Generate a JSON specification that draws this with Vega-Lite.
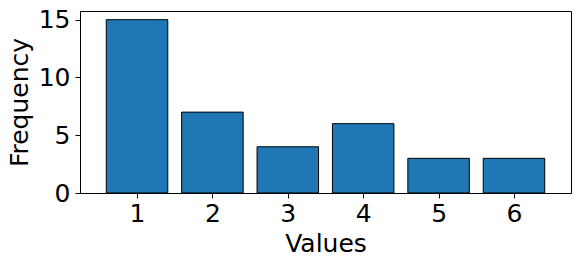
{
  "$schema": "https://vega.github.io/schema/vega-lite/v6.json",
  "autosize": "none",
  "width": 491,
  "height": 182,
  "padding": {"left": 80, "top": 11, "right": 10, "bottom": 74},
  "background": "white",
  "config": {
    "view": {"stroke": "#000000", "strokeWidth": 1},
    "font": "DejaVu Sans",
    "axis": {
      "labelFont": "DejaVu Sans",
      "titleFont": "DejaVu Sans",
      "labelFontSize": 25,
      "titleFontSize": 25,
      "titleFontWeight": "normal",
      "labelColor": "#000000",
      "titleColor": "#000000",
      "tickColor": "#000000",
      "domainColor": "#000000",
      "tickSize": 5,
      "grid": false
    }
  },
  "data": {
    "values": [
      {"Values": 1, "Frequency": 15},
      {"Values": 2, "Frequency": 7},
      {"Values": 3, "Frequency": 4},
      {"Values": 4, "Frequency": 6},
      {"Values": 5, "Frequency": 3},
      {"Values": 6, "Frequency": 3}
    ]
  },
  "mark": {"type": "bar", "size": 61.5, "fill": "#1f77b4", "stroke": "#000000", "strokeWidth": 1},
  "encoding": {
    "x": {
      "field": "Values",
      "type": "quantitative",
      "scale": {"domain": [0.31, 6.69], "nice": false, "zero": false},
      "axis": {"values": [1, 2, 3, 4, 5, 6], "title": "Values", "labelPadding": 3.5, "titlePadding": 5, "labelFlush": false}
    },
    "y": {
      "field": "Frequency",
      "type": "quantitative",
      "scale": {"domain": [0, 15.75], "nice": false},
      "axis": {"values": [0, 5, 10, 15], "title": "Frequency", "labelPadding": 5, "titlePadding": 6}
    }
  }
}
